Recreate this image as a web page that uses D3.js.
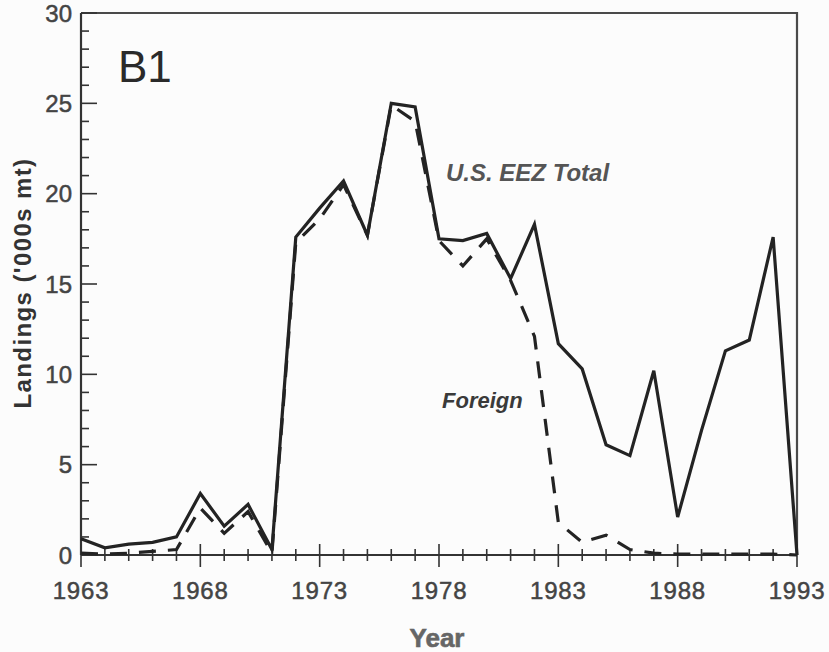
<!DOCTYPE html>
<html>
<head>
<meta charset="utf-8">
<script src="https://cdn.jsdelivr.net/npm/d3@7"></script>
<style>
  body { margin: 0; background: #fcfcfc; }
  svg { display: block; font-family: "Liberation Sans", Arial, sans-serif; }
</style>
</head>
<body>
<div id="chart"></div>
<script>
// landings, thousand metric tons, by year
var years = d3.range(1963, 1994);
var totalLandings = [0.9, 0.4, 0.6, 0.7, 1.0, 3.4, 1.6, 2.8, 0.3, 17.6,
  19.2, 20.7, 17.7, 25.0, 24.8, 17.5, 17.4, 17.8, 15.3, 18.3,
  11.7, 10.3, 6.1, 5.5, 10.2, 2.1, 6.9, 11.3, 11.9, 17.6, 0.0];
var foreignLandings = [0.1, 0.05, 0.1, 0.2, 0.3, 2.6, 1.2, 2.4, 0.1, 17.3,
  18.6, 20.5, 17.7, 24.9, 24.0, 17.4, 16.0, 17.5, 15.2, 12.1,
  1.8, 0.7, 1.1, 0.3, 0.1, 0.05, 0.05, 0.05, 0.05, 0.05, 0.0];
var xTickYears = [1963, 1968, 1973, 1978, 1983, 1988, 1993];
var yTickValues = [0, 5, 10, 15, 20, 25, 30];

var width = 829, height = 652;
var margin = {top: 13, right: 32, bottom: 97, left: 81};

var svg = d3.select("#chart").append("svg")
  .attr("width", width)
  .attr("height", height);

var x = d3.scaleLinear().domain([1963, 1993])
  .range([margin.left, width - margin.right]);
var y = d3.scaleLinear().domain([0, 30])
  .range([height - margin.bottom, margin.top]);

var ink = "#232323";

// frame: top and right edges
svg.append("path")
  .attr("d", "M" + x(1963) + "," + y(30) + "H" + x(1993) + "V" + y(0))
  .attr("fill", "none").attr("stroke", "#4a4a4a").attr("stroke-width", 2.2);

// y axis, ticks pointing in
var yAxisG = svg.append("g").attr("transform", "translate(" + x(1963) + ",0)");
yAxisG.append("line").attr("y1", y(0)).attr("y2", y(30))
  .attr("stroke", "#333").attr("stroke-width", 2.2);
yAxisG.selectAll(".ytick").data(d3.range(0, 31))
  .join("line")
  .attr("x1", 0)
  .attr("x2", function(d) { return d % 5 === 0 ? 16 : 8; })
  .attr("y1", function(d) { return y(d); })
  .attr("y2", function(d) { return y(d); })
  .attr("stroke", "#333").attr("stroke-width", 1.6);
yAxisG.selectAll(".ylabel").data(yTickValues)
  .join("text")
  .attr("x", -9)
  .attr("y", function(d) { return y(d) + 8.5; })
  .attr("text-anchor", "end")
  .attr("font-size", 24)
  .attr("fill", "#444")
  .attr("stroke", "#444").attr("stroke-width", 0.5)
  .text(function(d) { return d; });

// x axis, ticks crossing the line
var xAxisG = svg.append("g").attr("transform", "translate(0," + y(0) + ")");
xAxisG.append("line").attr("x1", x(1963)).attr("x2", x(1993))
  .attr("stroke", "#333").attr("stroke-width", 2.2);
xAxisG.selectAll(".xtick").data(years)
  .join("line")
  .attr("x1", function(d) { return x(d); })
  .attr("x2", function(d) { return x(d); })
  .attr("y1", function(d) { return (d - 1963) % 5 === 0 ? -11 : -6; })
  .attr("y2", function(d) { return (d - 1963) % 5 === 0 ? 12 : 6; })
  .attr("stroke", "#333").attr("stroke-width", 1.6);
xAxisG.selectAll(".xlabel").data(xTickYears)
  .join("text")
  .attr("x", function(d) { return x(d); })
  .attr("y", 44)
  .attr("text-anchor", "middle")
  .attr("font-size", 24)
  .attr("letter-spacing", 0.8)
  .attr("fill", "#444")
  .attr("stroke", "#444").attr("stroke-width", 0.5)
  .text(function(d) { return d; });

// series
var line = d3.line()
  .x(function(d, i) { return x(years[i]); })
  .y(function(d) { return y(d); });

svg.append("path")
  .datum(foreignLandings)
  .attr("d", line)
  .attr("fill", "none")
  .attr("stroke", ink)
  .attr("stroke-width", 3.2)
  .attr("stroke-dasharray", "17,12");

svg.append("path")
  .datum(totalLandings)
  .attr("d", line)
  .attr("fill", "none")
  .attr("stroke", ink)
  .attr("stroke-width", 3.2)
  .attr("stroke-linejoin", "miter");

// annotations
svg.append("text")
  .attr("x", 118).attr("y", 82)
  .attr("font-size", 44)
  .attr("fill", "#2a2a2a")
  .text("B1");

svg.append("text")
  .attr("x", 446).attr("y", 181)
  .attr("font-size", 24)
  .attr("font-weight", "bold")
  .attr("font-style", "italic")
  .attr("fill", "#555")
  .text("U.S. EEZ Total");

svg.append("text")
  .attr("x", 442).attr("y", 408)
  .attr("font-size", 22)
  .attr("font-weight", "bold")
  .attr("font-style", "italic")
  .attr("fill", "#3a3a3a")
  .text("Foreign");

// axis titles
svg.append("text")
  .attr("transform", "translate(31,283) rotate(-90)")
  .attr("text-anchor", "middle")
  .attr("font-size", 24)
  .attr("font-weight", "bold")
  .attr("letter-spacing", 1.4)
  .attr("fill", "#333")
  .text("Landings ('000s mt)");

svg.append("text")
  .attr("x", 437).attr("y", 647)
  .attr("text-anchor", "middle")
  .attr("font-size", 26)
  .attr("font-weight", "bold")
  .attr("fill", "#666")
  .attr("stroke", "#666").attr("stroke-width", 0.6)
  .text("Year");
</script>
</body>
</html>
